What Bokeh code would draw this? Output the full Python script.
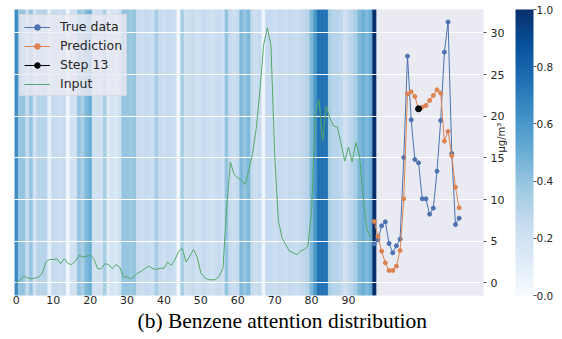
import math
import numpy as np
from bokeh.plotting import figure
from bokeh.models import (ColumnDataSource, LinearColorMapper, ColorBar, Range1d,
                          FixedTicker, Title, Legend, LegendItem, PrintfTickFormatter)
from bokeh.palettes import Blues256
from bokeh.embed import file_html
from bokeh.resources import INLINE

# ---------------- data ----------------
attention = [0.65, 0.40, 0.40, 0.25, 0.40, 0.20, 0.30, 0.30, 0.30, 0.08,
             0.25, 0.25, 0.22, 0.25, 0.03, 0.20, 0.20, 0.40, 0.35, 0.45,
             0.50, 0.20, 0.20, 0.20, 0.35, 0.12, 0.18, 0.15, 0.20, 0.40,
             0.40, 0.38, 0.40, 0.25, 0.22, 0.25, 0.25, 0.22, 0.35, 0.25,
             0.22, 0.25, 0.25, 0.22, 0.02, 0.35, 0.20, 0.22, 0.25, 0.20,
             0.22, 0.25, 0.22, 0.20, 0.22, 0.25, 0.20, 0.40, 0.25, 0.22,
             0.25, 0.45, 0.40, 0.45, 0.25, 0.22, 0.25, 0.05, 0.25, 0.25,
             0.22, 0.25, 0.25, 0.22, 0.25, 0.25, 0.22, 0.25, 0.28, 0.30,
             0.45, 0.60, 0.75, 0.75, 0.75, 0.35, 0.30, 0.30, 0.28, 0.20,
             0.25, 0.30, 0.35, 0.45, 0.50, 0.45, 0.50, 1.00]

input_vals = [0.0, 0.3, 0.8, 0.6, 0.5, 0.55, 0.7, 1.1, 2.5, 2.8,
              2.8, 2.9, 2.3, 2.9, 2.3, 2.2, 2.6, 3.3, 3.1, 3.2,
              3.3, 2.9, 1.7, 1.7, 2.3, 2.2, 1.7, 2.2, 1.9, 0.7,
              0.7, 0.5, 0.8, 1.2, 1.4, 1.8, 2.0, 1.7, 1.6, 1.75,
              1.75, 2.5, 2.1, 2.8, 3.8, 4.1, 2.5, 3.2, 4.0, 3.1,
              1.2, 0.6, 0.4, 0.35, 0.4, 0.8, 1.8, 9.0, 14.5, 13.0,
              12.6, 12.3, 11.8, 13.5, 15.5, 18.5, 23.0, 28.5, 30.6, 28.5,
              15.5, 7.5, 5.4, 4.6, 3.8, 3.6, 3.4, 3.8, 4.0, 4.4,
              8.5, 20.3, 22.0, 17.0, 21.2, 19.7, 18.8, 18.7, 16.7, 14.6,
              16.3, 14.5, 16.8, 15.3, 10.2, 6.4, 5.5]

true_vals = [4.68, 5.16, 6.84, 7.32, 4.72, 3.6, 4.44, 5.24, 15.04, 27.2,
             19.56, 14.8, 14.4, 10.08, 10.08, 8.24, 8.96, 13.4, 19.48, 27.68,
             31.3, 15.52, 6.99, 7.76]

pred_vals = [7.36, 5.56, 3.8, 2.4, 1.48, 1.48, 2.0, 3.88, 10.08, 22.68,
             22.92, 22.36, 20.88, 21.08, 21.28, 21.88, 22.48, 23.16, 22.76, 17.0,
             18.16, 15.24, 11.48, 9.0]

step_number = 13
x_ticks = [0, 10, 20, 30, 40, 50, 60, 70, 80, 90]
y_ticks = [0, 5, 10, 15, 20, 25, 30]
cbar_ticks = [0.0, 0.2, 0.4, 0.6, 0.8, 1.0]

title_text = "(b) Benzene attention distribution"
y_label = "μg/m³"

# ---------------- derived ----------------
n_in = len(input_vals)
input_x = list(range(n_in))
att_x = list(range(len(attention)))
pred_x = list(range(n_in, n_in + len(true_vals)))
step_x = [pred_x[step_number - 1]]
step_y = [pred_vals[step_number - 1]]

y_lo, y_hi = -1.52, 32.8
x_lo, x_hi = -0.5, 126.6

BLUE = "#4C72B0"
ORANGE = "#DD8452"
GREEN = "#55A868"
TXT = "#262626"

p = figure(frame_width=469, frame_height=286,
           x_range=Range1d(x_lo, x_hi), y_range=Range1d(y_lo, y_hi),
           output_backend="svg", toolbar_location=None,
           y_axis_location="right",
           min_border_left=14, min_border_top=9, min_border_right=0, min_border_bottom=0,
           background_fill_color="#EAEAF2", border_fill_color="white",
           outline_line_color=None)

mapper = LinearColorMapper(palette=list(reversed(Blues256)), low=0, high=1)

att_src = ColumnDataSource(dict(x=att_x, w=attention))
p.vbar(x="x", width=1, bottom=y_lo, top=y_hi, source=att_src,
       fill_color={"field": "w", "transform": mapper},
       line_color={"field": "w", "transform": mapper}, line_width=0.4,
       level="image")

# grid
p.xgrid.visible = False
p.ygrid.ticker = FixedTicker(ticks=y_ticks)
p.ygrid.grid_line_color = "white"
p.ygrid.grid_line_width = 1.1

# lines
r_in = p.line(input_x, input_vals, line_color=GREEN, line_width=1)
r_true_l = p.line(pred_x, true_vals, line_color=BLUE, line_width=1)
r_true_m = p.scatter(pred_x, true_vals, size=4, fill_color=BLUE, line_color=BLUE)
r_pred_l = p.line(pred_x, pred_vals, line_color=ORANGE, line_width=1)
r_pred_m = p.scatter(pred_x, pred_vals, size=4, fill_color=ORANGE, line_color=ORANGE)
r_step = p.scatter(step_x, step_y, size=6, fill_color="black", line_color="black")
r_step_l = p.line(step_x, step_y, line_color="black", line_width=1)

legend = Legend(items=[
    LegendItem(label="True data", renderers=[r_true_l, r_true_m]),
    LegendItem(label="Prediction", renderers=[r_pred_l, r_pred_m]),
    LegendItem(label="Step 13", renderers=[r_step_l, r_step]),
    LegendItem(label="Input", renderers=[r_in]),
], location="top_left", margin=5, padding=4, spacing=4,
    glyph_width=26, glyph_height=14, label_height=14, label_standoff=10,
    label_text_font="DejaVu Sans", label_text_font_size="12.5px", label_text_color=TXT,
    background_fill_color="#EAEAF2", background_fill_alpha=0.8,
    border_line_color="#cccccc", border_line_width=1)
p.add_layout(legend)

# x axis
xa = p.xaxis[0]
xa.ticker = FixedTicker(ticks=x_ticks)
xa.major_tick_out = 0
xa.major_tick_in = 0
xa.minor_tick_out = 0
xa.minor_tick_in = 0
xa.axis_line_color = None
xa.major_label_standoff = 0
xa.major_label_text_font = "DejaVu Sans"
xa.major_label_text_font_size = "11px"
xa.major_label_text_color = TXT

# y axis (right)
ya = p.yaxis[0]
ya.ticker = FixedTicker(ticks=y_ticks)
ya.major_tick_out = 3
ya.major_tick_in = 0
ya.minor_tick_out = 0
ya.minor_tick_in = 0
ya.major_tick_line_color = "#555555"
ya.axis_line_color = None
ya.major_label_standoff = 4
ya.major_label_text_font = "DejaVu Sans"
ya.major_label_text_font_size = "11px"
ya.major_label_text_color = TXT
ya.axis_label = y_label
ya.axis_label_standoff = -6
ya.axis_label_orientation = math.pi / 2
ya.axis_label_text_font = "DejaVu Sans"
ya.axis_label_text_font_size = "10px"
ya.axis_label_text_font_style = "normal"
ya.axis_label_text_color = TXT

# colorbar
cb = ColorBar(color_mapper=mapper, ticker=FixedTicker(ticks=cbar_ticks),
              formatter=PrintfTickFormatter(format="%.1f"),
              width=18, height=286, padding=0, margin=0,
              location=(0, 0),
              major_label_text_font="DejaVu Sans", major_label_text_font_size="10.5px",
              major_label_text_color=TXT,
              major_tick_out=3, major_tick_in=0, major_tick_line_color="#555555",
              minor_tick_line_color=None, label_standoff=0,
              bar_line_color=None, border_line_color=None,
              background_fill_color=None)
p.add_layout(cb, "right")

# title
t = Title(text=title_text, align="left", text_font="Liberation Serif",
          text_font_size="21.5px", text_font_style="normal", text_color="black",
          standoff=0, offset=123)
p.add_layout(t, "below")

open("out.html", "w").write(file_html(p, INLINE))
